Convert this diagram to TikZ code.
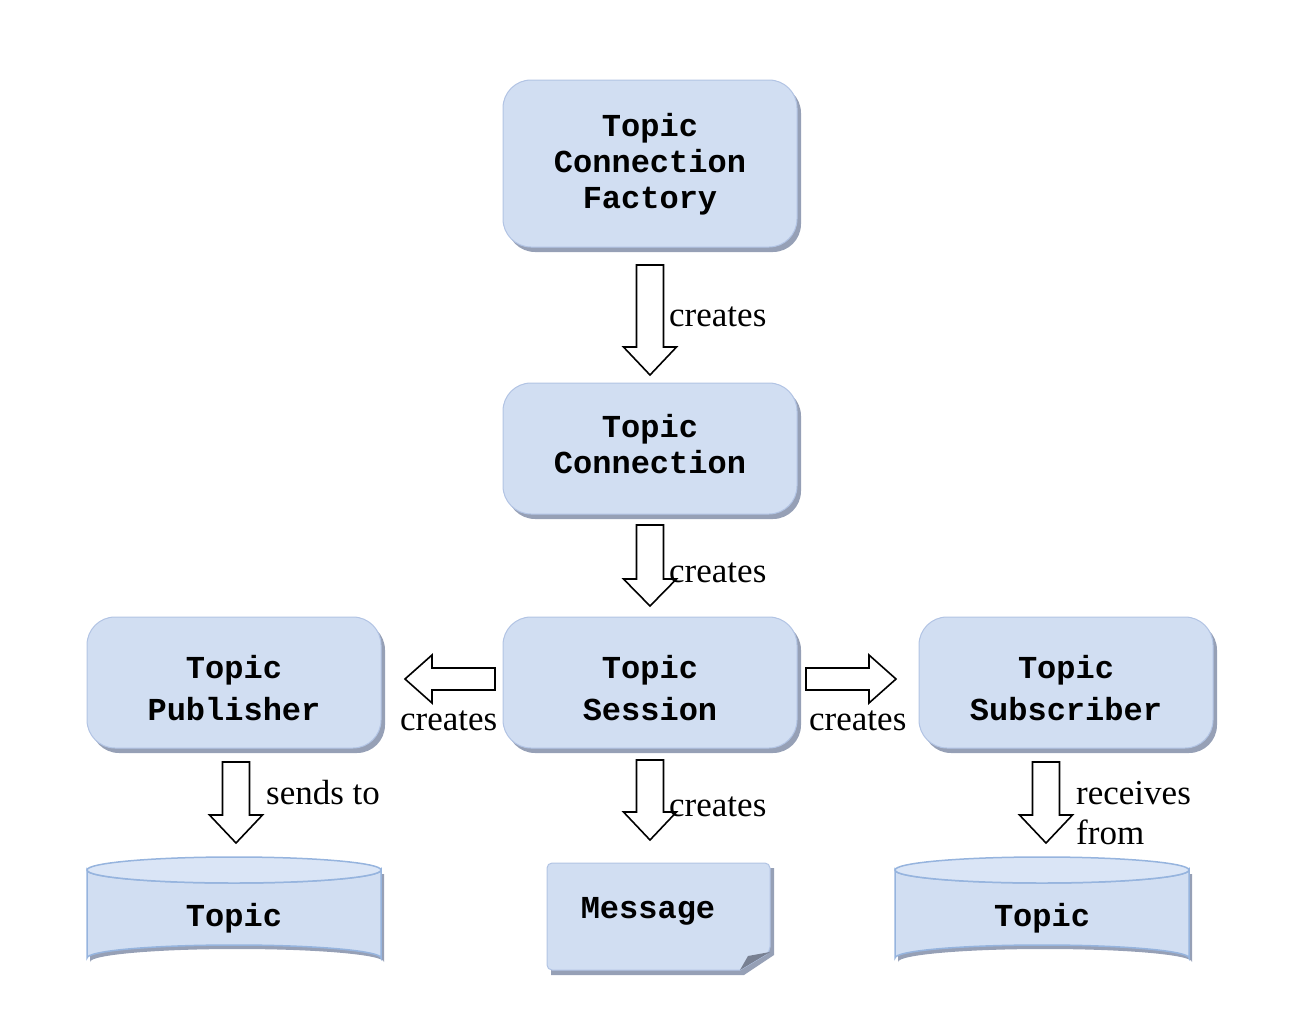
\documentclass[tikz,border=0pt]{standalone}
\usepackage{fontspec}
\setmainfont{Liberation Serif}
\newfontfamily\boxfont{Liberation Mono}
\usetikzlibrary{shadows}
\definecolor{boxfill}{RGB}{209,222,242}
\definecolor{boxedge}{RGB}{178,196,228}
\definecolor{shadowcol}{RGB}{150,160,182}
\definecolor{cyledge}{RGB}{150,180,222}
\definecolor{cyltop}{RGB}{218,229,246}
\tikzset{
  bx/.style={rectangle, rounded corners=28pt, fill=boxfill, draw=boxedge, line width=1pt,
    minimum width=294pt, inner sep=0pt,
    drop shadow={shadow xshift=4pt, shadow yshift=-5pt, fill=shadowcol, opacity=1}},
  lbl/.style={font=\fontsize{35}{40}\selectfont, inner sep=0pt, align=left},
  blk/.style={draw=black, fill=white, line width=1.6pt, line join=miter},
  txt/.style={font=\boxfont\bfseries\fontsize{32}{36}\selectfont, inner sep=0pt, align=center},
  txtw/.style={font=\boxfont\bfseries\fontsize{32}{42}\selectfont, inner sep=0pt, align=center}
}
\newcommand{\blkdown}[4]{% cx, top, tip, headlen
  \draw[blk] (#1-13.5,#2) -- (#1+13.5,#2) -- (#1+13.5,#3-#4) -- (#1+26.5,#3-#4) -- (#1,#3)
    -- (#1-26.5,#3-#4) -- (#1-13.5,#3-#4) -- cycle;}
\newcommand{\blkhoriz}[4]{% tail x, tip x, cy, head base x
  \draw[blk] (#1,#3-11) -- (#4,#3-11) -- (#4,#3-24) -- (#2,#3) -- (#4,#3+24) -- (#4,#3+11) -- (#1,#3+11) -- cycle;}
\begin{document}
\begin{tikzpicture}[x=1pt,y=-1pt]
\useasboundingbox (0,0) rectangle (1302,1026);
% boxes
\node[bx, minimum height=167pt] (fac) at (650,163.5) {};
\node[txt] (facT) at (650,164) {Topic\\Connection\\Factory};
\node[bx, minimum height=131pt] (con) at (650,448.5) {};
\node[txt] (conT) at (650,444) {Topic\\Connection};
\node[bx, minimum height=131pt] (ses) at (650,682.5) {};
\node[txtw] (sesT) at (650,688) {Topic\\Session};
\node[bx, minimum height=131pt] (pub) at (234,682.5) {};
\node[txtw] (pubT) at (234,688) {Topic\\Publisher};
\node[bx, minimum height=131pt] (sub) at (1066,682.5) {};
\node[txtw] (subT) at (1066,688) {Topic\\Subscriber};
% cylinders
\foreach \cx/\nm in {234/topl, 1042/topr}{
  \fill[shadowcol] (\cx-147+3,874) -- (\cx-147+3,962) arc[start angle=180,end angle=360,x radius=147,y radius=13] -- (\cx+147+3,874) -- cycle;
  \draw[cyledge, fill=boxfill, line width=1.5pt] (\cx-147,870) -- (\cx-147,958) arc[start angle=180,end angle=360,x radius=147,y radius=13] -- (\cx+147,870) arc[start angle=0,end angle=180,x radius=147,y radius=13] -- cycle;
  \draw[cyledge, fill=cyltop, line width=1.5pt] (\cx,870) ellipse[x radius=147, y radius=13];
  \node[txt] (\nm) at (\cx,918) {Topic};
}
% message (note)
\fill[shadowcol] (551,868) -- (774,868) -- (774,955) -- (744,975) -- (551,975) -- cycle;
\draw[boxedge, fill=boxfill, line width=1pt, rounded corners=5pt] (547,863) -- (770,863) -- (770,952) [sharp corners]-- (740,970) [rounded corners=5pt]-- (547,970) -- cycle;
\fill[shadowcol!80!black] (770,952) -- (740,970) -- (748,956) -- cycle;
\node[txt] (msg) at (648,911) {Message};
% block arrows
\blkdown{650}{265}{375}{28}
\blkdown{650}{525}{606}{27}
\blkdown{650}{760}{840}{28}
\blkdown{236}{762}{843}{28}
\blkdown{1046}{762}{843}{28}
\blkhoriz{495}{405}{679}{432}
\blkhoriz{806}{896}{679}{869}
% labels
\node[lbl, anchor=base west] (l1) at (669,326) {creates};
\node[lbl, anchor=base west] (l2) at (669,582) {creates};
\node[lbl, anchor=base west] (l3) at (400,730) {creates};
\node[lbl, anchor=base west] (l4) at (809,730) {creates};
\node[lbl, anchor=base west] (l5) at (669,816) {creates};
\node[lbl, anchor=base west] (l6) at (266,804) {sends to};
\node[lbl, anchor=base west] (l7) at (1076,804) {receives};
\node[lbl, anchor=base west] (l8) at (1076,844) {from};
\end{tikzpicture}
\end{document}
